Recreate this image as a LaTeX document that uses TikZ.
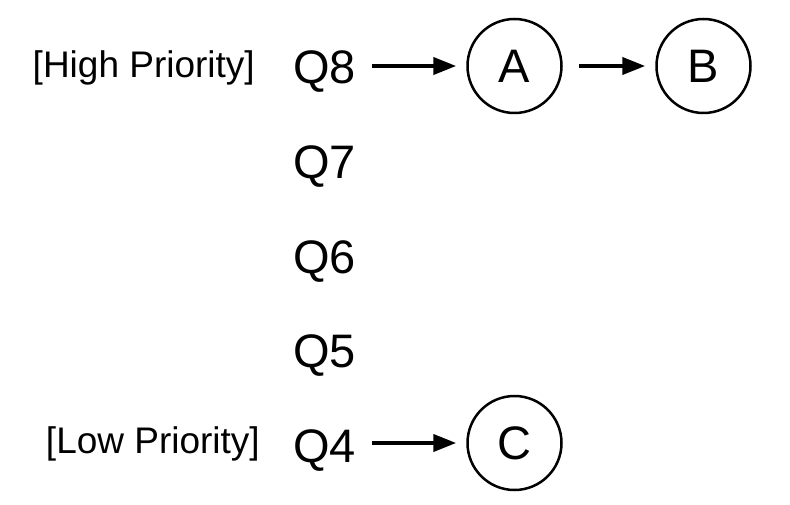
\documentclass[tikz,border=0pt]{standalone}
\usepackage{fontspec}
\setmainfont{Liberation Sans}
\usetikzlibrary{arrows.meta}
\newcommand{\queueFont}{\fontsize{47}{56}\selectfont}
\newcommand{\labelFont}{\fontsize{37}{44}\selectfont}
\newcommand{\queueX}{293}
\newcommand{\jobX}{514.5}

\begin{document}
\begin{tikzpicture}[x=1pt, y=-1pt,
    queue/.style={anchor=base west, inner sep=0pt, font=\queueFont},
    prio/.style={anchor=base east, inner sep=0pt, font=\labelFont},
    job/.style={circle, draw, line width=2.5pt, minimum size=94pt, inner sep=0pt, font=\queueFont},
    link/.style={-{Triangle[length=23pt,width=17pt]}, line width=4pt, shorten <=16pt, shorten >=10pt}]
\useasboundingbox (0,0) rectangle (790,505);
\node[prio] (high) at (255,78) {[High Priority]};
\node[prio] (low) at (260,453) {[Low Priority]};
\node[queue] (q8) at (\queueX,84) {Q8};
\node[queue] (q7) at (\queueX,179) {Q7};
\node[queue] (q6) at (\queueX,273) {Q6};
\node[queue] (q5) at (\queueX,367) {Q5};
\node[queue] (q4) at (\queueX,462) {Q4};
\node[job] (a) at (\jobX,66) {A};
\node[job] (b) at (703.5,66) {B};
\node[job] (c) at (\jobX,443) {C};
\draw[link] (q8.east |- a) -- (a);
\draw[link] (a) -- (b);
\draw[link] (q4.east |- c) -- (c);
\end{tikzpicture}
\end{document}
